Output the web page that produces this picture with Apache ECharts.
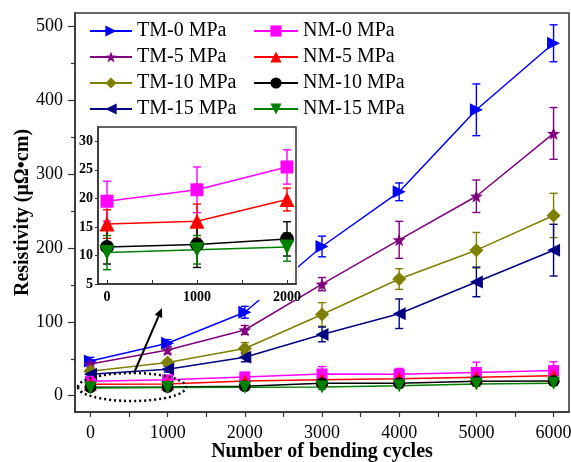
<!DOCTYPE html>
<html>
<head>
<meta charset="utf-8">
<script src="https://cdn.jsdelivr.net/npm/echarts@6/dist/echarts.min.js"></script>
<style>
  html, body { margin: 0; padding: 0; background: #fff; }
  #chart { width: 571px; height: 462px; }
</style>
</head>
<body>
<div id="chart"></div>
<script>
// bending cycles
const cycles = [0, 1000, 2000, 3000, 4000, 5000, 6000];

// resistivity (µΩ·cm) and error bars
const tm0 = [47, 71, 113, 202, 276, 387, 477];
const tm0Err = [5, 5, 8, 14, 12, 35, 25];
const tm5 = [43, 62, 89, 151, 211, 270, 355];
const tm5Err = [4, 5, 6, 9, 25, 22, 35];
const tm10 = [33, 45, 64, 110, 158, 197, 244];
const tm10Err = [4, 4, 8, 16, 14, 24, 30];
const tm15 = [29, 36, 52, 83, 111, 154, 197];
const tm15Err = [4, 4, 6, 10, 20, 20, 35];
const nm0 = [19.5, 21.5, 25.5, 29.5, 29, 31.5, 34];
const nm0Err = [3.5, 4, 3, 10, 8, 14, 12];
const nm5 = [15.5, 16, 19.8, 21.5, 23, 25, 27];
const nm5Err = [2.5, 3, 2, 3, 3, 3, 3];
const nm10 = [11.5, 11.9, 12.9, 17, 17, 19.5, 20];
const nm10Err = [3, 4, 3, 2, 2, 2, 2];
const nm15 = [10.5, 11, 11.5, 12, 13.5, 16, 17];
const nm15Err = [3, 2.5, 2.5, 3, 3, 3, 3];

// tick labels
const mainXLabels = [0, 1000, 2000, 3000, 4000, 5000, 6000];
const mainXTicks = [0, 500, 1000, 1500, 2000, 2500, 3000, 3500, 4000, 4500, 5000, 5500, 6000];
const mainYLabels = [0, 100, 200, 300, 400, 500];
const mainYMinor = [50, 150, 250, 350, 450];
const insetXLabels = [0, 1000, 2000];
const insetXTicks = [0, 500, 1000, 1500, 2000];
const insetYLabels = [5, 10, 15, 20, 25, 30];
const insetCount = 3; // first three cycle points in the inset

const FONT = "Liberation Serif";
const AXIS = "#333";

// symbols
const triRight = "path://M0,0 L10,5 L0,10 Z";
const triLeft = "path://M10,0 L0,5 L10,10 Z";
const triDown = "path://M0,0 L10,0 L5,10 Z";
const star = "path://M10,0 L12.35,6.76 L19.51,6.91 L13.8,11.24 L15.88,18.09 L10,14 L4.12,18.09 L6.2,11.24 L0.49,6.91 L7.65,6.76 Z";

const groups = [
  { name: "TM-0 MPa", data: tm0, err: tm0Err, color: "#0000ff", symbol: triRight, size: 13 },
  { name: "TM-5 MPa", data: tm5, err: tm5Err, color: "#800080", symbol: star, size: 13 },
  { name: "TM-10 MPa", data: tm10, err: tm10Err, color: "#808000", symbol: "diamond", size: 14 },
  { name: "TM-15 MPa", data: tm15, err: tm15Err, color: "#000080", symbol: triLeft, size: 13 },
  { name: "NM-0 MPa", data: nm0, err: nm0Err, color: "#ff00ff", symbol: "rect", size: 11, inset: true },
  { name: "NM-5 MPa", data: nm5, err: nm5Err, color: "#ff0000", symbol: "triangle", size: 13, inset: true },
  { name: "NM-10 MPa", data: nm10, err: nm10Err, color: "#000000", symbol: "circle", size: 12, inset: true },
  { name: "NM-15 MPa", data: nm15, err: nm15Err, color: "#008000", symbol: triDown, size: 13, inset: true }
];

function plain(v) { return String(v); }

function errRender(params, api) {
  const x = api.value(0), y = api.value(1), e = api.value(2);
  const hi = api.coord([x, y + e]);
  const lo = api.coord([x, y - e]);
  const w = 4;
  const style = { stroke: api.visual("color"), lineWidth: 1.4, fill: null };
  return {
    type: "group",
    children: [
      { type: "line", shape: { x1: hi[0], y1: hi[1], x2: lo[0], y2: lo[1] }, style: style },
      { type: "line", shape: { x1: hi[0] - w, y1: hi[1], x2: hi[0] + w, y2: hi[1] }, style: style },
      { type: "line", shape: { x1: lo[0] - w, y1: lo[1], x2: lo[0] + w, y2: lo[1] }, style: style }
    ]
  };
}

const series = [];
groups.forEach(function (g) {
  const pts = cycles.map(function (c, i) { return [c, g.data[i]]; });
  const errPts = cycles.map(function (c, i) { return [c, g.data[i], g.err[i]]; });
  series.push({
    name: "err " + g.name, type: "custom", xAxisIndex: 0, yAxisIndex: 0, z: 1,
    itemStyle: { color: g.color }, renderItem: errRender, data: errPts
  });
  series.push({
    name: g.name, type: "line", xAxisIndex: 0, yAxisIndex: 0, z: 2,
    symbol: g.symbol, symbolSize: g.size, showAllSymbol: true,
    itemStyle: { color: g.color }, lineStyle: { color: g.color, width: 1.5 },
    data: pts
  });
  if (g.inset) {
    series.push({
      name: "inset err " + g.name, type: "custom", xAxisIndex: 1, yAxisIndex: 2, z: 12,
      itemStyle: { color: g.color }, renderItem: errRender, data: errPts.slice(0, insetCount)
    });
    series.push({
      name: "inset " + g.name, type: "line", xAxisIndex: 1, yAxisIndex: 2, z: 13,
      symbol: g.symbol, symbolSize: g.size + 2, showAllSymbol: true,
      itemStyle: { color: g.color }, lineStyle: { color: g.color, width: 1.5 },
      data: pts.slice(0, insetCount)
    });
  }
});

const chart = echarts.init(document.getElementById("chart"), null, { renderer: "canvas" });

const legendText = { fontFamily: FONT, fontSize: 20, color: "#000" };

chart.setOption({
  animation: false,
  backgroundColor: "#fff",
  textStyle: { fontFamily: FONT },
  grid: [
    { left: 75, right: 2, top: 13, bottom: 50, show: true, borderColor: AXIS, borderWidth: 1.5,
      backgroundColor: "transparent", outerBoundsMode: "none", containLabel: false },
    { left: 98, top: 127, width: 198, height: 157, show: true, borderColor: AXIS, borderWidth: 1.5,
      backgroundColor: "transparent", z: 11, outerBoundsMode: "none", containLabel: false }
  ],
  legend: [
    {
      data: groups.slice(0, 4).map(function (g) { return g.name; }),
      orient: "vertical", left: 84, top: 16, itemWidth: 42, itemHeight: 14, itemGap: 6,
      textStyle: legendText
    },
    {
      data: groups.slice(4).map(function (g) { return g.name; }),
      orient: "vertical", left: 248, top: 16, itemWidth: 44, itemHeight: 14, itemGap: 6,
      textStyle: legendText
    }
  ],
  xAxis: [
    {
      type: "value", gridIndex: 0, min: -200, max: 6200,
      name: "Number of bending cycles", nameLocation: "middle", nameGap: 30, nameMoveOverlap: false,
      nameTextStyle: { fontFamily: FONT, fontSize: 20, fontWeight: "bold", color: "#000" },
      axisLine: { show: true, onZero: false, lineStyle: { color: AXIS, width: 1.5 } },
      axisTick: { show: true, inside: false, length: 5, customValues: mainXTicks, lineStyle: { color: AXIS, width: 1.2 } },
      axisLabel: { customValues: mainXLabels, formatter: plain, margin: 12, fontFamily: FONT, fontSize: 18, color: "#000" },
      splitLine: { show: false }
    },
    {
      type: "value", gridIndex: 1, min: -100, max: 2100,
      axisLine: { show: true, onZero: false, lineStyle: { color: AXIS, width: 1.5 } },
      axisTick: { show: true, inside: true, length: 4, customValues: insetXTicks, lineStyle: { color: AXIS } },
      axisLabel: { customValues: insetXLabels, formatter: plain, margin: 6, fontFamily: FONT, fontSize: 14, fontWeight: "bold", color: "#000" },
      splitLine: { show: false }, z: 11
    }
  ],
  yAxis: [
    {
      type: "value", gridIndex: 0, min: -22, max: 518, position: "left",
      name: "Resistivity (μΩ•cm)", nameLocation: "middle", nameGap: 42, nameMoveOverlap: false,
      nameTextStyle: { fontFamily: FONT, fontSize: 20, fontWeight: "bold", color: "#000" },
      axisLine: { show: true, onZero: false, lineStyle: { color: AXIS, width: 1.5 } },
      axisTick: { show: true, inside: false, length: 7, customValues: mainYLabels, lineStyle: { color: AXIS, width: 1.2 } },
      axisLabel: { customValues: mainYLabels, formatter: plain, margin: 12, fontFamily: FONT, fontSize: 18, color: "#000" },
      splitLine: { show: false }
    },
    {
      type: "value", gridIndex: 0, min: -22, max: 518, position: "left", offset: 0,
      axisLine: { show: false, onZero: false },
      axisTick: { show: true, inside: false, length: 4, customValues: mainYMinor, lineStyle: { color: AXIS, width: 1.2 } },
      axisLabel: { show: false },
      splitLine: { show: false }
    },
    {
      type: "value", gridIndex: 1, min: 5, max: 32.5, position: "left",
      axisLine: { show: true, onZero: false, lineStyle: { color: AXIS, width: 1.5 } },
      axisTick: { show: true, inside: false, length: 3, customValues: insetYLabels, lineStyle: { color: AXIS } },
      axisLabel: { customValues: insetYLabels, formatter: plain, margin: 5, fontFamily: FONT, fontSize: 14, fontWeight: "bold", color: "#000" },
      splitLine: { show: false }, z: 11
    }
  ],
  graphic: [
    // white backing so the main curves do not show through the inset
    { type: "rect", z: 10, shape: { x: 80, y: 124, width: 218, height: 176 }, style: { fill: "#fff" } },
    // dotted ellipse around the low-cycle NM data
    { type: "ellipse", z: 5, shape: { cx: 132, cy: 387, rx: 54, ry: 14 },
      style: { fill: null, stroke: "#000", lineWidth: 2.5, lineDash: [2, 3] } },
    // arrow pointing to the inset
    { type: "line", z: 5, shape: { x1: 134, y1: 373, x2: 158.5, y2: 316.3 }, style: { stroke: "#000", lineWidth: 2 } },
    { type: "polygon", z: 5, shape: { points: [[162, 308], [162.2, 317.9], [154.8, 314.7]] }, style: { fill: "#000" } }
  ],
  series: series
});
</script>
</body>
</html>
